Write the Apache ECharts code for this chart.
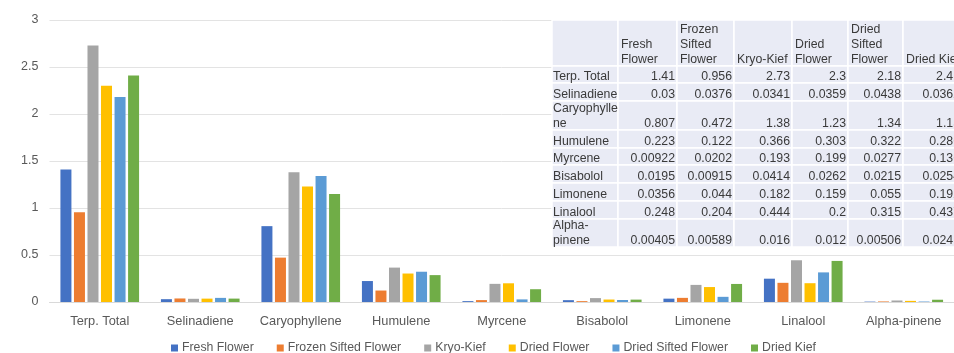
<!DOCTYPE html>
<html>
<head>
<meta charset="utf-8">
<script src="https://cdn.jsdelivr.net/npm/echarts@6/dist/echarts.min.js"></script>
<style>
  html, body { margin: 0; padding: 0; background: #fff; }
  #chart { width: 954px; height: 353px; }
</style>
</head>
<body>
<div id="chart"></div>
<script>
// Terpene content by preparation
const categories = ['Terp. Total', 'Selinadiene', 'Caryophyllene', 'Humulene', 'Myrcene', 'Bisabolol', 'Limonene', 'Linalool', 'Alpha-pinene'];
const tableRowLabels = ['Terp. Total', 'Selinadiene', 'Caryophylle\nne', 'Humulene', 'Myrcene', 'Bisabolol', 'Limonene', 'Linalool', 'Alpha-\npinene'];
const seriesNames = ['Fresh Flower', 'Frozen Sifted Flower', 'Kryo-Kief', 'Dried Flower', 'Dried Sifted Flower', 'Dried Kief'];
const tableHeaders = ['Fresh\nFlower', 'Frozen\nSifted\nFlower', 'Kryo-Kief', 'Dried\nFlower', 'Dried\nSifted\nFlower', 'Dried Kief'];

const freshFlower        = [1.41, 0.03,   0.807, 0.223, 0.00922, 0.0195,  0.0356, 0.248, 0.00405];
const frozenSiftedFlower = [0.956, 0.0376, 0.472, 0.122, 0.0202,  0.00915, 0.044,  0.204, 0.00589];
const kryoKief           = [2.73, 0.0341, 1.38,  0.366, 0.193,   0.0414,  0.182,  0.444, 0.016];
const driedFlower        = [2.3,  0.0359, 1.23,  0.303, 0.199,   0.0262,  0.159,  0.2,   0.012];
const driedSiftedFlower  = [2.18, 0.0438, 1.34,  0.322, 0.0277,  0.0215,  0.055,  0.315, 0.00506];
const driedKief          = [2.41, 0.0362, 1.15,  0.286, 0.136,   0.0254,  0.192,  0.437, 0.0241];

const yTicks = [0, 0.5, 1, 1.5, 2, 2.5, 3];

const seriesValues = [freshFlower, frozenSiftedFlower, kryoKief, driedFlower, driedSiftedFlower, driedKief];
const colors = ['#4472C4', '#ED7D31', '#A5A5A5', '#FFC000', '#5B9BD5', '#70AD47'];

// Data table overlay layout
const colEdges = [552, 618, 677, 734, 792, 848, 903, 962];
const rowEdges = [20, 66, 83, 101, 130, 148, 165, 183, 201, 219, 247];
const cellFill = '#E9EBF5';
const tableFont = '12.3px "Liberation Sans", Arial, sans-serif';
const tableColor = '#3A3A3A';

function buildTable() {
  const els = [];
  const nCols = colEdges.length - 1;
  const nRows = rowEdges.length - 1;
  for (let r = 0; r < nRows; r++) {
    for (let c = 0; c < nCols; c++) {
      const x0 = colEdges[c], x1 = colEdges[c + 1];
      const y0 = rowEdges[r], y1 = rowEdges[r + 1];
      els.push({
        type: 'rect',
        z: 100,
        shape: { x: x0, y: y0, width: x1 - x0, height: y1 - y0 },
        style: { fill: cellFill, stroke: '#ffffff', lineWidth: 1.5 },
        silent: true
      });
      let text = '';
      let align = 'right';
      let tx = x1 - 2;
      if (r === 0) {
        if (c > 0) { text = tableHeaders[c - 1]; }
        align = 'left'; tx = x0 + 3;
      } else if (c === 0) {
        text = tableRowLabels[r - 1];
        align = 'left'; tx = x0 + 1;
      } else {
        text = String(seriesValues[c - 1][r - 1]);
      }
      if (text) {
        els.push({
          type: 'text',
          z: 101,
          x: tx, y: y1 + 1.5,
          style: {
            text: text, font: tableFont, fill: tableColor,
            align: align, verticalAlign: 'bottom', lineHeight: 15
          },
          silent: true
        });
      }
    }
  }
  return els;
}

const chart = echarts.init(document.getElementById('chart'), null, { renderer: 'canvas' });

chart.setOption({
  animation: false,
  color: colors,
  textStyle: { fontFamily: '"Liberation Sans", Arial, sans-serif' },
  grid: { left: 49.5, top: 20, width: 910, bottom: 51, containLabel: false },
  legend: {
    data: seriesNames,
    top: 342,
    left: 171,
    padding: 0,
    icon: 'rect',
    itemWidth: 7,
    itemHeight: 7,
    itemGap: 23,
    textStyle: { color: '#595959', fontSize: 12.3, padding: [0, 0, 0, -1] }
  },
  xAxis: {
    type: 'category',
    data: categories,
    axisLine: { lineStyle: { color: '#D9D9D9' } },
    axisTick: { show: false },
    axisLabel: { color: '#595959', fontSize: 12.8, margin: 13, interval: 0 }
  },
  yAxis: {
    type: 'value',
    min: yTicks[0],
    max: yTicks[yTicks.length - 1],
    interval: 0.5,
    axisLine: { show: false },
    axisTick: { show: false },
    splitLine: { lineStyle: { color: '#E3E3E3' } },
    axisLabel: { color: '#595959', fontSize: 12.5, margin: 11 }
  },
  series: seriesNames.map((name, i) => ({
    name: name,
    type: 'bar',
    data: seriesValues[i],
    barWidth: 11,
    barGap: '23%',
    itemStyle: { color: colors[i] }
  })),
  graphic: { elements: buildTable() }
});
</script>
</body>
</html>
